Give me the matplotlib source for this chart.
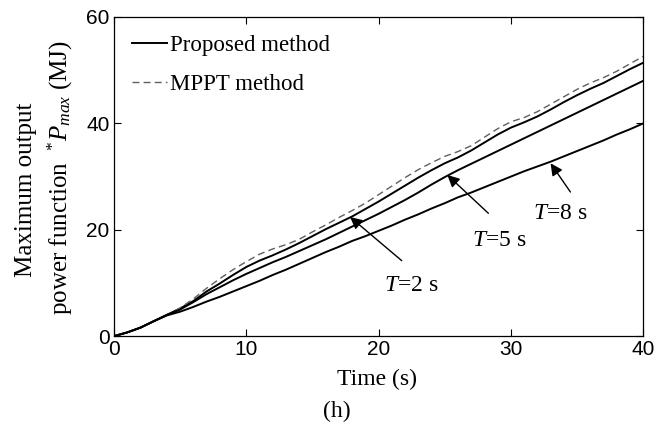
import matplotlib
matplotlib.use("Agg")
import matplotlib.pyplot as plt
import numpy as np

plt.rcParams['font.family'] = ['Liberation Serif', 'DejaVu Serif']
plt.rcParams['mathtext.fontset'] = 'custom'
plt.rcParams['mathtext.rm'] = 'Liberation Serif'
plt.rcParams['mathtext.it'] = 'Liberation Serif:italic'

# Time axis (s) and cumulative maximum output power function (MJ)
t = [0, 1, 2, 3, 4, 5, 6, 7, 8, 9, 10, 11, 12, 13, 14, 15, 16, 17, 18, 19, 20,
     21, 22, 23, 24, 25, 26, 27, 28, 29, 30, 31, 32, 33, 34, 35, 36, 37, 38, 39, 40]

mppt = [0, 0.7, 1.6, 2.8, 4.0, 5.3, 7.0, 9.0, 10.8, 12.5, 14.0, 15.4, 16.4, 17.2,
        18.2, 19.6, 20.9, 22.3, 23.6, 25.0, 26.6, 28.2, 29.8, 31.3, 32.6, 33.8,
        34.7, 35.8, 37.4, 39.0, 40.3, 41.1, 42.2, 43.6, 45.0, 46.4, 47.6, 48.6,
        49.8, 51.2, 52.6]

prop_T2 = [0, 0.7, 1.6, 2.8, 4.0, 5.2, 6.6, 8.4, 9.9, 11.5, 13.0, 14.2, 15.2, 16.3,
           17.5, 18.8, 20.1, 21.3, 22.5, 23.9, 25.3, 26.8, 28.3, 29.8, 31.2, 32.5,
           33.6, 34.9, 36.4, 37.9, 39.2, 40.2, 41.3, 42.6, 44.0, 45.3, 46.5, 47.6,
           48.9, 50.2, 51.4]

prop_T5 = [0, 0.7, 1.6, 2.8, 4.0, 5.0, 6.4, 7.9, 9.2, 10.5, 11.7, 12.8, 13.9, 14.9,
           16.0, 17.1, 18.2, 19.4, 20.6, 21.8, 23.0, 24.3, 25.6, 27.0, 28.5, 29.9,
           31.2, 32.4, 33.6, 34.8, 36.0, 37.2, 38.4, 39.6, 40.8, 42.0, 43.2, 44.4,
           45.6, 46.8, 48.0]

prop_T8 = [0, 0.7, 1.6, 2.8, 3.9, 4.6, 5.5, 6.5, 7.4, 8.4, 9.4, 10.4, 11.5, 12.5,
           13.6, 14.7, 15.8, 16.8, 17.9, 18.8, 19.8, 20.8, 21.9, 22.9, 24.0, 25.0,
           26.1, 27.0, 28.0, 29.0, 30.0, 31.0, 31.9, 32.8, 33.8, 34.8, 35.8, 36.8,
           37.9, 38.9, 40.0]

x_ticks = [0, 10, 20, 30, 40]
y_ticks = [0, 20, 40, 60]

fig = plt.figure(figsize=(6.7, 4.25), dpi=100)
ax = fig.add_axes([0.170, 0.209, 0.790, 0.751])

ax.plot(t, prop_T2, color='black', lw=1.4, label='Proposed method')
ax.plot(t, mppt, color='#606060', lw=1.0, ls=(0, (5, 3)), label='MPPT method')
ax.plot(t, prop_T5, color='black', lw=1.4)
ax.plot(t, prop_T8, color='black', lw=1.4)

ax.set_xlim(0, 40)
ax.set_ylim(0, 60)
ax.set_xticks(x_ticks)
ax.set_yticks(y_ticks)
ax.tick_params(direction='in', length=5, width=0.8, top=True, right=True,
               labelsize=15, pad=3)
for lab in ax.get_xticklabels() + ax.get_yticklabels():
    lab.set_fontfamily('Liberation Sans')
for s in ax.spines.values():
    s.set_linewidth(0.9)

leg = ax.legend(loc='upper left', frameon=False, fontsize=16.5, handlelength=1.5,
                handletextpad=0.15, labelspacing=0.75,
                borderaxespad=0.4, bbox_to_anchor=(0.0, 1.0))

arrow = dict(arrowstyle='-|>', color='black', lw=1.0, mutation_scale=18,
             shrinkA=0, shrinkB=0)
ax.annotate('', xy=(17.85, 22.4), xytext=(21.75, 14.2), arrowprops=arrow)
ax.annotate('', xy=(25.2, 30.3), xytext=(28.3, 23.1), arrowprops=arrow)
ax.annotate('', xy=(33.0, 32.5), xytext=(34.5, 27.1), arrowprops=arrow)
ax.text(22.5, 9.6, r'$T$=2 s', fontsize=17, ha='center', va='center')
ax.text(29.1, 17.9, r'$T$=5 s', fontsize=17, ha='center', va='center')
ax.text(33.7, 23.1, r'$T$=8 s', fontsize=17, ha='center', va='center')

fig.text(377 / 670, 1 - 379 / 425, 'Time (s)', fontsize=17, ha='center', va='center')
fig.text(337 / 670, 1 - 411 / 425, '(h)', fontsize=17, ha='center', va='center')

fig.text(26 / 670, 1 - 190 / 425, 'Maximum output', fontsize=18, rotation=90,
         ha='center', va='center')
fig.text(60 / 670, 1 - 178 / 425, r'power function  $^{*}P_{max}$ (MJ)', fontsize=18,
         rotation=90, ha='center', va='center')

fig.savefig('out.png', dpi=100)
